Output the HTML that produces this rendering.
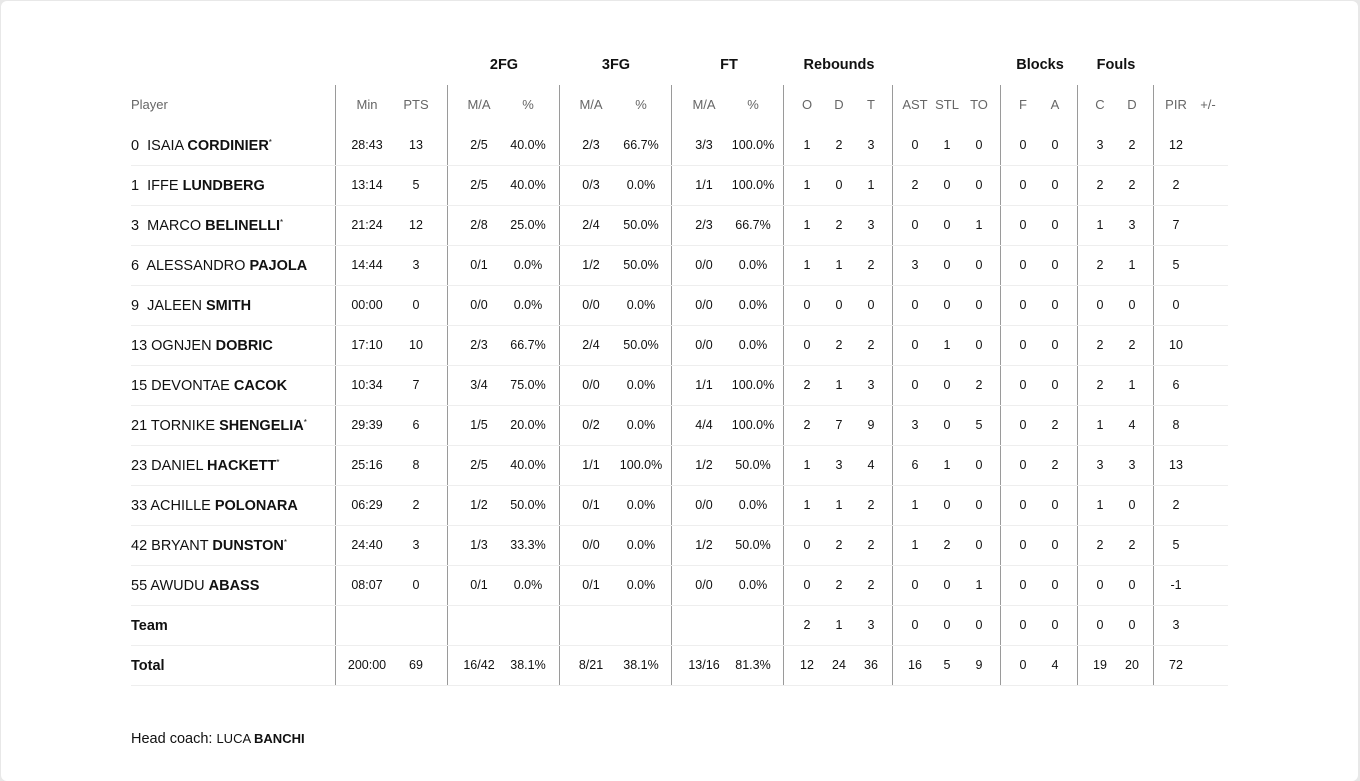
<!DOCTYPE html>
<html><head><meta charset="utf-8"><style>
body{margin:0;width:1360px;height:762px;background:#e8e8e8;font-family:"Liberation Sans",sans-serif;overflow:hidden}
.card{position:absolute;left:1px;top:1px;width:1357px;height:780px;background:#fff;border-radius:6px}
.v{position:absolute;top:85px;height:600px;width:1px;background:#9a9a9a}
.h{position:absolute;left:131px;width:1097px;height:1px;background:#eeeeee}
.r{position:absolute;left:0;width:1360px;height:20px;line-height:20px;font-size:12.5px;color:#111}
.r span{position:absolute;width:70px;margin-left:-35px;text-align:center}
.r .n{left:131px;width:auto;margin:0;text-align:left;font-size:14.5px;top:1px}
.hd{color:#666;font-size:13px}
.g{position:absolute;top:57px;line-height:16px;font-weight:bold;font-size:14.5px;width:100px;margin-left:-50px;text-align:center;color:#111}
.a{left:367px}.b{left:416px}.c{left:479px}.d{left:528px}.e{left:591px}.f{left:641px}.g2{left:704px}.i{left:753px}
.j{left:807px}.k{left:839px}.l{left:871px}.m{left:915px}.o{left:947px}.p{left:979px}.q{left:1023px}.s{left:1055px}.t{left:1100px}.u{left:1132px}.w{left:1176px}.x{left:1208px}
sup{font-size:8px;line-height:0;vertical-align:baseline;display:inline-block;transform:translateY(-5px)}
</style></head><body><div class="card"></div>
<div class="g" style="left:504px">2FG</div><div class="g" style="left:616px">3FG</div><div class="g" style="left:729px">FT</div><div class="g" style="left:839px">Rebounds</div><div class="g" style="left:1040px">Blocks</div><div class="g" style="left:1116px">Fouls</div>
<div class="v" style="left:335px"></div><div class="v" style="left:447px"></div><div class="v" style="left:559px"></div><div class="v" style="left:671px"></div><div class="v" style="left:783px"></div><div class="v" style="left:892px"></div><div class="v" style="left:1000px"></div><div class="v" style="left:1077px"></div><div class="v" style="left:1153px"></div>
<div class="h" style="top:165px"></div><div class="h" style="top:205px"></div><div class="h" style="top:245px"></div><div class="h" style="top:285px"></div><div class="h" style="top:325px"></div><div class="h" style="top:365px"></div><div class="h" style="top:405px"></div><div class="h" style="top:445px"></div><div class="h" style="top:485px"></div><div class="h" style="top:525px"></div><div class="h" style="top:565px"></div><div class="h" style="top:605px"></div><div class="h" style="top:645px"></div><div class="h" style="top:685px"></div>
<div class="r hd" style="top:95px"><span class="n" style="font-size:13px;top:0">Player</span><span class="a">Min</span><span class="b">PTS</span><span class="c">M/A</span><span class="d">%</span><span class="e">M/A</span><span class="f">%</span><span class="g2">M/A</span><span class="i">%</span><span class="j">O</span><span class="k">D</span><span class="l">T</span><span class="m">AST</span><span class="o">STL</span><span class="p">TO</span><span class="q">F</span><span class="s">A</span><span class="t">C</span><span class="u">D</span><span class="w">PIR</span><span class="x">+/-</span></div>
<div class="r" style="top:135px"><span class="n">0&nbsp; ISAIA <b>CORDINIER</b><sup>*</sup></span><span class="a">28:43</span><span class="b">13</span><span class="c">2/5</span><span class="d">40.0%</span><span class="e">2/3</span><span class="f">66.7%</span><span class="g2">3/3</span><span class="i">100.0%</span><span class="j">1</span><span class="k">2</span><span class="l">3</span><span class="m">0</span><span class="o">1</span><span class="p">0</span><span class="q">0</span><span class="s">0</span><span class="t">3</span><span class="u">2</span><span class="w">12</span></div>
<div class="r" style="top:175px"><span class="n">1&nbsp; IFFE <b>LUNDBERG</b></span><span class="a">13:14</span><span class="b">5</span><span class="c">2/5</span><span class="d">40.0%</span><span class="e">0/3</span><span class="f">0.0%</span><span class="g2">1/1</span><span class="i">100.0%</span><span class="j">1</span><span class="k">0</span><span class="l">1</span><span class="m">2</span><span class="o">0</span><span class="p">0</span><span class="q">0</span><span class="s">0</span><span class="t">2</span><span class="u">2</span><span class="w">2</span></div>
<div class="r" style="top:215px"><span class="n">3&nbsp; MARCO <b>BELINELLI</b><sup>*</sup></span><span class="a">21:24</span><span class="b">12</span><span class="c">2/8</span><span class="d">25.0%</span><span class="e">2/4</span><span class="f">50.0%</span><span class="g2">2/3</span><span class="i">66.7%</span><span class="j">1</span><span class="k">2</span><span class="l">3</span><span class="m">0</span><span class="o">0</span><span class="p">1</span><span class="q">0</span><span class="s">0</span><span class="t">1</span><span class="u">3</span><span class="w">7</span></div>
<div class="r" style="top:255px"><span class="n">6&nbsp; ALESSANDRO <b>PAJOLA</b></span><span class="a">14:44</span><span class="b">3</span><span class="c">0/1</span><span class="d">0.0%</span><span class="e">1/2</span><span class="f">50.0%</span><span class="g2">0/0</span><span class="i">0.0%</span><span class="j">1</span><span class="k">1</span><span class="l">2</span><span class="m">3</span><span class="o">0</span><span class="p">0</span><span class="q">0</span><span class="s">0</span><span class="t">2</span><span class="u">1</span><span class="w">5</span></div>
<div class="r" style="top:295px"><span class="n">9&nbsp; JALEEN <b>SMITH</b></span><span class="a">00:00</span><span class="b">0</span><span class="c">0/0</span><span class="d">0.0%</span><span class="e">0/0</span><span class="f">0.0%</span><span class="g2">0/0</span><span class="i">0.0%</span><span class="j">0</span><span class="k">0</span><span class="l">0</span><span class="m">0</span><span class="o">0</span><span class="p">0</span><span class="q">0</span><span class="s">0</span><span class="t">0</span><span class="u">0</span><span class="w">0</span></div>
<div class="r" style="top:335px"><span class="n">13 OGNJEN <b>DOBRIC</b></span><span class="a">17:10</span><span class="b">10</span><span class="c">2/3</span><span class="d">66.7%</span><span class="e">2/4</span><span class="f">50.0%</span><span class="g2">0/0</span><span class="i">0.0%</span><span class="j">0</span><span class="k">2</span><span class="l">2</span><span class="m">0</span><span class="o">1</span><span class="p">0</span><span class="q">0</span><span class="s">0</span><span class="t">2</span><span class="u">2</span><span class="w">10</span></div>
<div class="r" style="top:375px"><span class="n">15 DEVONTAE <b>CACOK</b></span><span class="a">10:34</span><span class="b">7</span><span class="c">3/4</span><span class="d">75.0%</span><span class="e">0/0</span><span class="f">0.0%</span><span class="g2">1/1</span><span class="i">100.0%</span><span class="j">2</span><span class="k">1</span><span class="l">3</span><span class="m">0</span><span class="o">0</span><span class="p">2</span><span class="q">0</span><span class="s">0</span><span class="t">2</span><span class="u">1</span><span class="w">6</span></div>
<div class="r" style="top:415px"><span class="n">21 TORNIKE <b>SHENGELIA</b><sup>*</sup></span><span class="a">29:39</span><span class="b">6</span><span class="c">1/5</span><span class="d">20.0%</span><span class="e">0/2</span><span class="f">0.0%</span><span class="g2">4/4</span><span class="i">100.0%</span><span class="j">2</span><span class="k">7</span><span class="l">9</span><span class="m">3</span><span class="o">0</span><span class="p">5</span><span class="q">0</span><span class="s">2</span><span class="t">1</span><span class="u">4</span><span class="w">8</span></div>
<div class="r" style="top:455px"><span class="n">23 DANIEL <b>HACKETT</b><sup>*</sup></span><span class="a">25:16</span><span class="b">8</span><span class="c">2/5</span><span class="d">40.0%</span><span class="e">1/1</span><span class="f">100.0%</span><span class="g2">1/2</span><span class="i">50.0%</span><span class="j">1</span><span class="k">3</span><span class="l">4</span><span class="m">6</span><span class="o">1</span><span class="p">0</span><span class="q">0</span><span class="s">2</span><span class="t">3</span><span class="u">3</span><span class="w">13</span></div>
<div class="r" style="top:495px"><span class="n">33 ACHILLE <b>POLONARA</b></span><span class="a">06:29</span><span class="b">2</span><span class="c">1/2</span><span class="d">50.0%</span><span class="e">0/1</span><span class="f">0.0%</span><span class="g2">0/0</span><span class="i">0.0%</span><span class="j">1</span><span class="k">1</span><span class="l">2</span><span class="m">1</span><span class="o">0</span><span class="p">0</span><span class="q">0</span><span class="s">0</span><span class="t">1</span><span class="u">0</span><span class="w">2</span></div>
<div class="r" style="top:535px"><span class="n">42 BRYANT <b>DUNSTON</b><sup>*</sup></span><span class="a">24:40</span><span class="b">3</span><span class="c">1/3</span><span class="d">33.3%</span><span class="e">0/0</span><span class="f">0.0%</span><span class="g2">1/2</span><span class="i">50.0%</span><span class="j">0</span><span class="k">2</span><span class="l">2</span><span class="m">1</span><span class="o">2</span><span class="p">0</span><span class="q">0</span><span class="s">0</span><span class="t">2</span><span class="u">2</span><span class="w">5</span></div>
<div class="r" style="top:575px"><span class="n">55 AWUDU <b>ABASS</b></span><span class="a">08:07</span><span class="b">0</span><span class="c">0/1</span><span class="d">0.0%</span><span class="e">0/1</span><span class="f">0.0%</span><span class="g2">0/0</span><span class="i">0.0%</span><span class="j">0</span><span class="k">2</span><span class="l">2</span><span class="m">0</span><span class="o">0</span><span class="p">1</span><span class="q">0</span><span class="s">0</span><span class="t">0</span><span class="u">0</span><span class="w">-1</span></div>
<div class="r" style="top:615px"><span class="n"><b>Team</b></span><span class="j">2</span><span class="k">1</span><span class="l">3</span><span class="m">0</span><span class="o">0</span><span class="p">0</span><span class="q">0</span><span class="s">0</span><span class="t">0</span><span class="u">0</span><span class="w">3</span></div>
<div class="r" style="top:655px"><span class="n"><b>Total</b></span><span class="a">200:00</span><span class="b">69</span><span class="c">16/42</span><span class="d">38.1%</span><span class="e">8/21</span><span class="f">38.1%</span><span class="g2">13/16</span><span class="i">81.3%</span><span class="j">12</span><span class="k">24</span><span class="l">36</span><span class="m">16</span><span class="o">5</span><span class="p">9</span><span class="q">0</span><span class="s">4</span><span class="t">19</span><span class="u">20</span><span class="w">72</span></div>
<div class="r" style="top:728px"><span class="n">Head coach: <span style="position:static;font-size:13px;margin:0">LUCA <b>BANCHI</b></span></span></div>
</body></html>
